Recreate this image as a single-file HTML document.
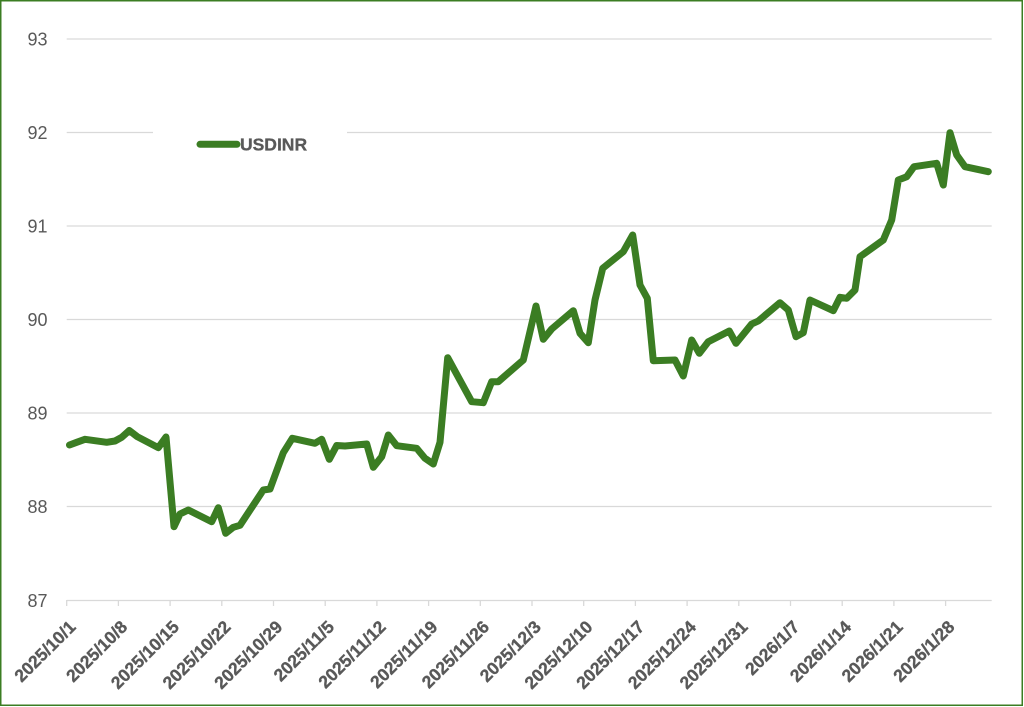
<!DOCTYPE html>
<html>
<head>
<meta charset="utf-8">
<style>
html,body{margin:0;padding:0;background:#fff;}
body{width:1024px;height:707px;overflow:hidden;}
svg{display:block;}
text{font-family:"Liberation Sans",Arial,sans-serif;}
</style>
</head>
<body>
<svg width="1024" height="707" viewBox="0 0 1024 707" xmlns="http://www.w3.org/2000/svg">
  <rect x="0" y="0" width="1024" height="707" fill="#ffffff"/>
  <rect x="0.75" y="0.75" width="1021.5" height="704.5" fill="none" stroke="#3B7D23" stroke-width="1.5"/>

  <!-- gridlines -->
  <g stroke="#d9d9d9" stroke-width="1.3" fill="none">
    <line x1="66.7" y1="39" x2="991.7" y2="39"/>
    <line x1="66.7" y1="132.5" x2="153" y2="132.5"/>
    <line x1="347" y1="132.5" x2="991.7" y2="132.5"/>
    <line x1="66.7" y1="226" x2="991.7" y2="226"/>
    <line x1="66.7" y1="319.5" x2="991.7" y2="319.5"/>
    <line x1="66.7" y1="413" x2="991.7" y2="413"/>
    <line x1="66.7" y1="506.5" x2="991.7" y2="506.5"/>
    <line x1="66.7" y1="600.5" x2="991.7" y2="600.5"/>
  </g>
  <!-- ticks -->
  <g stroke="#d9d9d9" stroke-width="1.3">
    <line x1="66.7" y1="600" x2="66.7" y2="606"/>
    <line x1="118.4" y1="600" x2="118.4" y2="606"/>
    <line x1="170.1" y1="600" x2="170.1" y2="606"/>
    <line x1="221.8" y1="600" x2="221.8" y2="606"/>
    <line x1="273.5" y1="600" x2="273.5" y2="606"/>
    <line x1="325.2" y1="600" x2="325.2" y2="606"/>
    <line x1="376.9" y1="600" x2="376.9" y2="606"/>
    <line x1="428.6" y1="600" x2="428.6" y2="606"/>
    <line x1="480.3" y1="600" x2="480.3" y2="606"/>
    <line x1="532.0" y1="600" x2="532.0" y2="606"/>
    <line x1="583.7" y1="600" x2="583.7" y2="606"/>
    <line x1="635.4" y1="600" x2="635.4" y2="606"/>
    <line x1="687.1" y1="600" x2="687.1" y2="606"/>
    <line x1="738.8" y1="600" x2="738.8" y2="606"/>
    <line x1="790.5" y1="600" x2="790.5" y2="606"/>
    <line x1="842.2" y1="600" x2="842.2" y2="606"/>
    <line x1="893.9" y1="600" x2="893.9" y2="606"/>
    <line x1="945.6" y1="600" x2="945.6" y2="606"/>
  </g>

  <!-- y labels -->
  <g fill="#595959" font-size="18" text-anchor="end">
    <text x="47.5" y="45.5">93</text>
    <text x="47.5" y="139">92</text>
    <text x="47.5" y="232.5">91</text>
    <text x="47.5" y="326">90</text>
    <text x="47.5" y="419.5">89</text>
    <text x="47.5" y="513">88</text>
    <text x="47.5" y="607">87</text>
  </g>

  <!-- x labels -->
  <g fill="#595959" stroke="#595959" stroke-width="0.35" font-size="17.5" font-weight="bold" text-anchor="end">
    <text transform="translate(76.7,628) rotate(-45)">2025/10/1</text>
    <text transform="translate(128.4,628) rotate(-45)">2025/10/8</text>
    <text transform="translate(180.1,628) rotate(-45)">2025/10/15</text>
    <text transform="translate(231.8,628) rotate(-45)">2025/10/22</text>
    <text transform="translate(283.5,628) rotate(-45)">2025/10/29</text>
    <text transform="translate(335.2,628) rotate(-45)">2025/11/5</text>
    <text transform="translate(386.9,628) rotate(-45)">2025/11/12</text>
    <text transform="translate(438.6,628) rotate(-45)">2025/11/19</text>
    <text transform="translate(490.3,628) rotate(-45)">2025/11/26</text>
    <text transform="translate(542.0,628) rotate(-45)">2025/12/3</text>
    <text transform="translate(593.7,628) rotate(-45)">2025/12/10</text>
    <text transform="translate(645.4,628) rotate(-45)">2025/12/17</text>
    <text transform="translate(697.1,628) rotate(-45)">2025/12/24</text>
    <text transform="translate(748.8,628) rotate(-45)">2025/12/31</text>
    <text transform="translate(800.5,628) rotate(-45)">2026/1/7</text>
    <text transform="translate(852.2,628) rotate(-45)">2026/1/14</text>
    <text transform="translate(903.9,628) rotate(-45)">2026/1/21</text>
    <text transform="translate(955.6,628) rotate(-45)">2026/1/28</text>
  </g>

  <!-- series -->
  <polyline fill="none" stroke="#3B7D23" stroke-width="7" stroke-linejoin="round" stroke-linecap="round"
    points="69.5,445 76.7,442.3 85,439.3 106.7,442.3 115,441 121.7,437.3 129.3,430.5 137.3,436.7 158.3,447.7 166,437 174,526.7 180,514 188.3,510 211.7,521.7 218.3,507.7 225.7,533.3 233.3,527.3 240,525.3 263.3,490 270,489 283.3,452.7 292.3,438.3 315,443.3 321.7,439.3 329.3,459.3 336.7,445.5 345,446 366.7,444 373.3,467.3 381.7,456.7 388.3,435 396.7,445.7 416.7,448.3 425,458.3 433.3,464 440,442.3 447.7,357.7 471.7,401.7 483.3,402.7 491.7,381.7 498.3,381.7 523.3,360 536,306 543.3,339.3 551.7,329 573.3,310.7 580,333.3 588.3,342.7 595,300 602.7,268.3 623.3,251.7 632.7,235 640,285 647.3,298.3 653.3,360.7 675,360 683.3,376 691.7,340 699.3,353.3 708.3,341.7 729.3,331 736,343.3 751.7,324 758.3,321 780,302.7 788.3,310 796,336.7 803.3,332.7 810,300 833.3,310.7 840,297.3 846.7,298.3 855,290 860,256.7 883.3,240 891.7,220 898.3,180 906.7,176.7 914,166.7 936.7,163.3 943.3,185 950,132.7 956.7,155 965,166.7 988.3,171.7"/>

  <!-- legend -->
  <line x1="200" y1="144.3" x2="237" y2="144.3" stroke="#3B7D23" stroke-width="7" stroke-linecap="round"/>
  <text x="240" y="150.5" fill="#595959" stroke="#595959" stroke-width="0.3" font-size="17.5" font-weight="bold">USDINR</text>
</svg>
</body>
</html>
